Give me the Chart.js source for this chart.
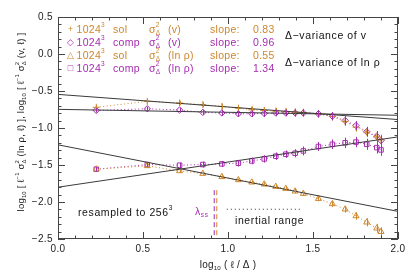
<!DOCTYPE html>
<html>
<head>
<meta charset="utf-8">
<script src="https://cdn.jsdelivr.net/npm/chart.js@4"></script>
<style>html,body{margin:0;padding:0;background:#fff}canvas{display:block}</style>
</head>
<body>
<canvas id="chart" width="415" height="276"></canvas>
<script>
// log10(l/Delta) of each lag
const lags = [0.225, 0.525, 0.715, 0.852, 0.964, 1.061, 1.140, 1.213, 1.281, 1.340,
    1.395, 1.443, 1.532, 1.614, 1.689, 1.753, 1.816, 1.875, 1.900];

const vSol = [-0.72, -0.64, -0.662, -0.685, -0.71, -0.732, -0.754, -0.764, -0.772, -0.78,
    -0.786, -0.79, -0.808, -0.845, -0.913, -0.989, -1.056, -1.12, -1.16];
const vComp = [-0.762, -0.74, -0.757, -0.789, -0.797, -0.808, -0.808, -0.803, -0.797, -0.797,
    -0.797, -0.797, -0.808, -0.84, -0.899, -0.967, -1.05, -1.11, -1.17];
const rhoSol = [-1.557, -1.512, -1.58, -1.616, -1.66, -1.702, -1.733, -1.76, -1.792, -1.819,
    -1.855, -1.887, -1.955, -2.026, -2.098, -2.189, -2.274, -2.355, -2.401];
const rhoComp = [-1.557, -1.494, -1.503, -1.494, -1.485, -1.476, -1.445, -1.418, -1.381, -1.354,
    -1.341, -1.31, -1.25, -1.22, -1.20, -1.19, -1.22, -1.265, -1.296];

const vErr = [0.03, 0.03, 0.03, 0.035, 0.04, 0.04, 0.045, 0.045, 0.045, 0.045,
    0.05, 0.05, 0.05, 0.055, 0.06, 0.06, 0.065, 0.07, 0.07];
const rhoSolErr = [0.02, 0.02, 0.02, 0.02, 0.02, 0.02, 0.02, 0.025, 0.025, 0.025,
    0.03, 0.03, 0.035, 0.04, 0.045, 0.05, 0.055, 0.06, 0.06];
const rhoCompErr = [0.03, 0.03, 0.035, 0.04, 0.04, 0.045, 0.045, 0.05, 0.05, 0.05,
    0.055, 0.06, 0.06, 0.065, 0.07, 0.07, 0.075, 0.08, 0.08];

// power-law fits (slope - 1 in this plot)
const fitX = [0, 2];
const fitVSol = [-0.546, -0.886];
const fitVComp = [-0.748, -0.828];
const fitRhoSol = [-1.227, -2.127];
const fitRhoComp = [-1.80, -1.12];

// lambda_ss markers and inertial range
const lambdaComp = 0.919;
const lambdaSol = 0.934;
const lambdaY = [-1.84, -2.5];
const inertialX = [0.993, 1.434];
const inertialY = -2.098;

const ORANGE = "rgb(205,135,45)";
const PURPLE = "rgb(165,45,175)";
const FONT = "'Liberation Sans', 'DejaVu Sans', sans-serif";

const pts = (xs, ys) => xs.map((x, i) => ({ x: x, y: ys[i] }));

function series(ys, errs, color, style, radius) {
    return {
        data: pts(lags, ys),
        errors: errs,
        showLine: true,
        borderColor: color,
        borderWidth: 1,
        borderDash: [1, 2.5],
        pointStyle: style,
        pointRadius: radius,
        pointBorderColor: color,
        pointBackgroundColor: "rgba(0,0,0,0)",
        pointBorderWidth: 1,
    };
}

function fit(ys) {
    return {
        data: pts(fitX, ys),
        showLine: true,
        borderColor: "#3a3a3a",
        borderWidth: 1,
        pointRadius: 0,
    };
}

function rich(ctx, x, y, parts, size, draw) {
    let cx = x;
    for (const [t, k] of parts) {
        if (k === "s") {
            ctx.font = size * 0.62 + "px " + FONT;
            const w = Math.max(ctx.measureText(t[0]).width, ctx.measureText(t[1]).width);
            if (draw) {
                ctx.fillText(t[0], cx, y - size * 0.42);
                ctx.fillText(t[1], cx, y + size * 0.32);
            }
            cx += w;
        } else {
            const sz = k ? size * 0.62 : size;
            ctx.font = sz + "px " + FONT;
            const dy = k === "^" ? -size * 0.42 : k === "_" ? size * 0.32 : 0;
            if (draw) ctx.fillText(t, cx, y + dy);
            cx += ctx.measureText(t).width;
        }
    }
    return cx - x;
}

const errorBars = {
    id: "errorBars",
    afterDatasetsDraw(chart) {
        const ctx = chart.ctx;
        const xs = chart.scales.x, ys = chart.scales.y;
        chart.data.datasets.forEach((ds) => {
            if (!ds.errors) return;
            ctx.save();
            ctx.strokeStyle = ds.borderColor;
            ctx.lineWidth = 1;
            ds.data.forEach((p, i) => {
                const px = Math.round(xs.getPixelForValue(p.x)) + 0.5;
                ctx.beginPath();
                ctx.moveTo(px, ys.getPixelForValue(p.y - ds.errors[i]));
                ctx.lineTo(px, ys.getPixelForValue(p.y + ds.errors[i]));
                ctx.stroke();
            });
            ctx.restore();
        });
    },
};

const decor = {
    id: "decor",
    afterDraw(chart) {
        const ctx = chart.ctx;
        const a = chart.chartArea;
        const xs = chart.scales.x, ys = chart.scales.y;
        ctx.save();
        // frame + inward ticks
        ctx.strokeStyle = "#444";
        ctx.lineWidth = 1;
        ctx.strokeRect(a.left + 0.5, a.top + 0.5, a.right - a.left - 1, a.bottom - a.top - 1);
        ctx.beginPath();
        for (let i = 0; i <= 20; i++) {
            const px = Math.round(xs.getPixelForValue(i / 10)) + 0.5;
            const len = i % 5 === 0 ? 7 : 3.5;
            ctx.moveTo(px, a.bottom); ctx.lineTo(px, a.bottom - len);
            ctx.moveTo(px, a.top); ctx.lineTo(px, a.top + len);
        }
        for (let i = -25; i <= 5; i++) {
            const py = Math.round(ys.getPixelForValue(i / 10)) + 0.5;
            const len = i % 5 === 0 ? 7 : 3.5;
            ctx.moveTo(a.left, py); ctx.lineTo(a.left + len, py);
            ctx.moveTo(a.right, py); ctx.lineTo(a.right - len, py);
        }
        ctx.stroke();

        ctx.textBaseline = "middle";
        const S = 10.5;
        const rows = [
            [ORANGE, "+", "sol", [["(v)", ""]], "0.83"],
            [PURPLE, "\u25C7", "comp", [["(v)", ""]], "0.96"],
            [ORANGE, "\u25B3", "sol", [["(ln ", ""], ["\u03C1", ""], [")", ""]], "0.55"],
            [PURPLE, "\u25A1", "comp", [["(ln ", ""], ["\u03C1", ""], [")", ""]], "1.34"],
        ];
        const rowY = [30, 43, 56, 69];
        ctx.letterSpacing = "0.3px";
        rows.forEach((r, i) => {
            const y = rowY[i];
            ctx.fillStyle = r[0];
            ctx.font = "9px " + FONT;
            ctx.textAlign = "center";
            ctx.fillText(r[1], 70.5, y);
            ctx.textAlign = "left";
            rich(ctx, 76.5, y, [["1024", ""], ["3", "^"]], S, true);
            rich(ctx, 113, y, [[r[2], ""]], S, true);
            rich(ctx, 149, y, [["\u03C3", ""], [["2", "\u0394"], "s"]], S, true);
            rich(ctx, 168, y, r[3], S, true);
            rich(ctx, 210, y, [["slope:", ""]], S, true);
            rich(ctx, 253, y, [[r[4], ""]], S, true);
        });
        ctx.letterSpacing = "0.6px";
        ctx.fillStyle = "#111";
        rich(ctx, 285, 36, [["\u0394\u2212variance of v", ""]], S, true);
        rich(ctx, 285, 63, [["\u0394\u2212variance of ln ", ""], ["\u03C1", ""]], S, true);
        rich(ctx, 78, 213, [["resampled to 256", ""], ["3", "^"]], S, true);
        rich(ctx, 235, 221, [["inertial range", ""]], S, true);
        ctx.fillStyle = PURPLE;
        rich(ctx, 195, 212, [["\u03BB", ""], ["ss", "_"]], S, true);

        // axis tick labels
        ctx.letterSpacing = "0.4px";
        ctx.fillStyle = "#222";
        ctx.font = "10px " + FONT;
        ctx.textAlign = "center";
        for (let i = 0; i <= 4; i++) {
            ctx.fillText((i * 0.5).toFixed(1), xs.getPixelForValue(i * 0.5), 249);
        }
        ctx.textAlign = "right";
        for (let i = -5; i <= 1; i++) {
            const v = i * 0.5;
            const t = (v < 0 ? "\u2212" : "") + Math.abs(v).toFixed(1);
            ctx.fillText(t, 53, ys.getPixelForValue(v));
        }

        // axis titles
        ctx.letterSpacing = "0.2px";
        ctx.textAlign = "left";
        const xt = [["log", ""], ["10", "_"], [" ( \u2113 / \u0394 )", ""]];
        const xw = rich(ctx, 0, 0, xt, 10, false);
        rich(ctx, (a.left + a.right) / 2 - xw / 2, 265, xt, 10, true);

        const yt = [["log", ""], ["10", "_"], [" [ \u2113", ""], ["\u22121", "^"], [" \u03C3", ""],
            [["2", "\u0394"], "s"], [" (ln \u03C1, \u2113) ], log", ""], ["10", "_"], [" [ \u2113", ""],
            ["\u22121", "^"], [" \u03C3", ""], [["2", "\u0394"], "s"], [" (v, \u2113) ]", ""]];
        const yw = rich(ctx, 0, 0, yt, 9.5, false);
        ctx.translate(21, 122);
        ctx.rotate(-Math.PI / 2);
        rich(ctx, -yw / 2, 0, yt, 9.5, true);
        ctx.restore();
    },
};

const datasets = [
    fit(fitVSol), fit(fitVComp), fit(fitRhoSol), fit(fitRhoComp),
    series(vSol, vErr, ORANGE, "cross", 3.5),
    series(vComp, vErr, PURPLE, "rectRot", 3.2),
    series(rhoSol, rhoSolErr, ORANGE, "triangle", 3.5),
    series(rhoComp, rhoCompErr, PURPLE, "rect", 3.2),
    {
        data: pts([lambdaComp, lambdaComp], lambdaY),
        showLine: true, borderColor: PURPLE, borderWidth: 1, borderDash: [5, 3], pointRadius: 0,
    },
    {
        data: pts([lambdaSol, lambdaSol], lambdaY),
        showLine: true, borderColor: ORANGE, borderWidth: 1, borderDash: [5, 3], pointRadius: 0,
    },
    {
        data: pts(inertialX, [inertialY, inertialY]),
        showLine: true, borderColor: "#333", borderWidth: 1, borderDash: [1, 3], pointRadius: 0,
    },
];

new Chart(document.querySelector("#chart").getContext("2d"), {
    type: "scatter",
    data: { datasets: datasets },
    options: {
        responsive: false,
        animation: false,
        events: [],
        layout: { padding: { top: 17, right: 17, left: 0, bottom: 0 } },
        scales: {
            x: {
                min: 0, max: 2,
                ticks: { display: false },
                grid: { display: false, drawTicks: false },
                border: { display: false },
                afterFit: (s) => { s.height = 37; },
            },
            y: {
                min: -2.5, max: 0.5,
                ticks: { display: false },
                grid: { display: false, drawTicks: false },
                border: { display: false },
                afterFit: (s) => { s.width = 58; },
            },
        },
        plugins: { legend: { display: false }, tooltip: { enabled: false } },
    },
    plugins: [errorBars, decor],
});
</script>
</body>
</html>
